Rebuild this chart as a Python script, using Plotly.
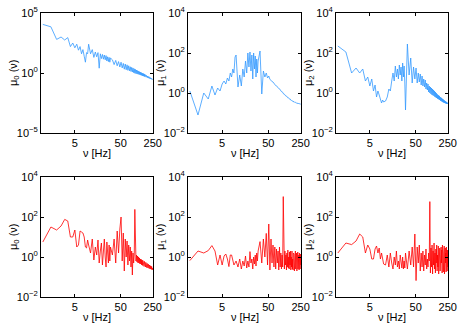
import numpy as np
import plotly.graph_objects as go

# frequency grid [Hz]
FREQ = [1, 1.5, 2, 2.5, 3, 3.5, 4, 4.5, 5, 5.5, 6, 6.5, 7, 7.5, 8, 8.5, 9, 9.5, 10,
        11, 12, 13, 14, 15, 16, 17, 18, 19, 20, 21, 22, 23, 24, 25, 26, 27, 28, 29, 30,
        33, 36, 39, 42, 45, 48, 51, 54, 57, 60, 63, 66,
        69, 72, 75, 78, 81, 84, 87, 90, 93, 96, 99, 102,
        105, 108, 111, 114, 117, 120, 123, 126, 129, 132, 135, 138,
        141, 144, 147, 150, 153, 156, 159, 162, 165, 168, 171, 174,
        177, 180, 183, 186, 189, 192, 195, 198, 201, 204, 207, 210,
        213, 216, 219, 222, 225, 228, 231, 234, 237, 240, 243, 246,
        249]

# spectra, stored as log10 of mu_k(nu)
TOP_MU0 = [4.05, 3.85, 2.8, 3.0, 2.75, 2.95, 2.2, 2.5, 2.1, 2.4, 1.9, 2.2, 1.6, 1.95, 1.4, 0.9, 1.7, 1.6, 2.4,
           1.6, 1.95, 1.3, 1.75, 1.35, 1.7, 0.4, 1.6, 1.2, 1.55, 1.15, 1.5, 1.1, 1.45, 1.0, 1.35, 0.95, 1.3, 0.9, 1.25,
           1.1, 0.7, 1.05, 0.6, 0.95, 0.5, 0.9, 0.42, 0.8, 0.32, 0.75, 0.27,
           0.68, 0.22, 0.6, 0.18, 0.52, 0.13, 0.47, 0.08, 0.42, 0.03, 0.35, -0.02,
           0.3, -0.05, 0.25, -0.08, 0.2, -0.1, 0.15, -0.12, 0.11, -0.15, 0.07, -0.18,
           0.04, -0.2, 0.0, -0.23, -0.03, -0.25, -0.06, -0.28, -0.1, -0.3, -0.13, -0.33,
           -0.16, -0.35, -0.2, -0.37, -0.22, -0.39, -0.25, -0.41, -0.28, -0.43, -0.31, -0.45,
           -0.34, -0.47, -0.37, -0.49, -0.4, -0.5, -0.43, -0.52, -0.46, -0.53, -0.49, -0.54,
           -0.53]
TOP_MU1 = [0.1, -1.1, 0.0, -0.3, 0.35, -0.1, 0.25, 0.1, 0.45, 0.6, 0.45, 0.75, 0.6, 1.0, 0.8, 1.2, 1.0, 1.8, 1.9,
           0.3, 0.9, 0.35, 1.2, 0.8, 1.6, 1.0, 2.0, 1.3, 2.05, 1.1, 1.9, 0.7, 2.0, 1.2, 1.85, 0.8, 1.7, 1.0, 1.6,
           2.1, -0.05, 1.1, 0.8, 1.0, 0.75, 0.85, 0.68, 0.65, 0.58, 0.55, 0.47,
           0.45, 0.37, 0.36, 0.29, 0.29, 0.22, 0.21, 0.14, 0.14, 0.07, 0.07, 0.0,
           0.0, -0.06, -0.06, -0.11, -0.11, -0.16, -0.15, -0.2, -0.19, -0.24, -0.23, -0.28,
           -0.26, -0.31, -0.29, -0.34, -0.32, -0.37, -0.35, -0.4, -0.37, -0.42, -0.4, -0.44,
           -0.42, -0.46, -0.44, -0.48, -0.45, -0.49, -0.47, -0.5, -0.48, -0.51, -0.49, -0.52,
           -0.5, -0.53, -0.51, -0.54, -0.52, -0.55, -0.52, -0.55, -0.53, -0.56, -0.54, -0.56,
           -0.55]
TOP_MU2 = [2.35, 2.05, 1.0, 1.25, 1.0, 1.2, 0.6, 0.8, 0.35, 0.7, 0.1, 0.4, -0.2, 0.1, -0.1, -0.3, -0.5, -0.35, -0.45,
           -0.4, -0.2, 0.2, 0.1, 0.6, 1.0, 0.6, 1.35, 0.8, 1.2, 0.7, 1.4, 0.9, 1.3, 0.6, 1.5, 0.8, 1.35, 0.5, -0.85,
           2.45, 0.9, 1.75, 0.5, 1.3, 0.7, 1.25, 0.5, 1.0, 0.55, 0.95, 0.4,
           0.85, 0.35, 0.7, 0.3, 0.65, 0.2, 0.5, 0.15, 0.45, 0.05, 0.35, 0.0,
           0.3, -0.05, 0.25, -0.1, 0.2, -0.12, 0.15, -0.15, 0.1, -0.2, 0.05, -0.22,
           0.0, -0.25, -0.05, -0.28, -0.1, -0.3, -0.12, -0.33, -0.15, -0.35, -0.2, -0.38,
           -0.22, -0.4, -0.25, -0.42, -0.28, -0.44, -0.3, -0.46, -0.33, -0.47, -0.36, -0.49,
           -0.38, -0.5, -0.4, -0.51, -0.42, -0.52, -0.44, -0.53, -0.46, -0.54, -0.48, -0.55,
           -0.52]
BOT_MU0 = [0.75, 1.5, 1.35, 1.55, 1.88, 1.8, 1.0, 1.0, 1.35, 0.5, 0.6, 1.3, 1.25, 1.2, 1.0, 0.5, 0.45, 0.85, 0.6,
           0.2, 0.9, -0.15, 0.5, 0.1, 0.85, -0.3, 0.3, 0.7, -0.4, 0.3, 0.9, 0.0, -0.5, 0.75, 0.1, -0.3, 0.6, -0.2, 0.5,
           0.1, 0.9, -0.3, 1.3, 0.2, 1.4, 2.0, -0.2, 1.2, -0.7, 0.9, 0.0,
           0.8, -0.4, 0.6, -0.2, 0.5, -0.5, 0.3, -0.9, 0.2, -0.3, 0.1, 2.38,
           0.15, -0.2, 0.1, -0.25, 0.05, -0.3, 0.0, -0.3, -0.05, -0.35, -0.1, -0.35,
           -0.12, -0.4, -0.15, -0.42, -0.18, -0.45, -0.2, -0.47, -0.22, -0.5, -0.25, -0.5,
           -0.27, -0.52, -0.3, -0.53, -0.32, -0.55, -0.34, -0.55, -0.36, -0.57, -0.38, -0.58,
           -0.4, -0.6, -0.42, -0.6, -0.44, -0.62, -0.45, -0.62, -0.47, -0.63, -0.48, -0.64,
           -0.55]
BOT_MU1 = [-0.18, 0.3, 0.2, 0.32, 0.57, 0.3, -0.4, 0.1, -0.4, 0.05, 0.15, -0.1, -0.48, 0.1, 0.1, -0.2, -0.4, -0.3, -0.2,
           -0.5, -0.1, -0.6, -0.2, -0.45, 0.05, -0.55, -0.2, -0.5, 0.27, -0.3, -0.1, -0.6, 0.0, -0.35, 0.1, -0.45, 0.2, -0.2, 0.3,
           0.77, -0.3, 0.9, 0.0, 1.18, -0.4, 1.65, -0.65, 0.9, -0.3, 0.6, -0.5,
           0.5, -0.6, 0.4, -0.3, 0.3, -0.65, 0.5, -0.5, 0.2, -0.6, 0.1, -0.5,
           3.02, 0.2, -0.6, 0.3, -0.4, 0.1, -0.65, 0.2, -0.5, 0.35, -0.55, 0.0,
           -0.6, 0.25, -0.4, 0.3, -0.65, 0.0, -0.5, 0.3, -0.6, -0.1, -0.65, 0.2,
           -0.5, 0.15, -0.7, 0.0, -0.4, 0.3, -0.6, -0.1, -0.5, 0.2, -0.7, 0.05,
           -0.55, 0.25, -0.6, -0.05, -0.45, 0.1, -0.65, 0.2, -0.4, -0.1, -0.6, 0.15,
           -0.4]
BOT_MU2 = [0.2, 0.7, 0.62, 0.8, 1.15, 1.0, 0.2, 0.6, 0.4, -0.1, -0.1, 0.4, 0.55, 0.2, 0.45, -0.1, 0.2, -0.2, -0.35,
           -0.4, 0.1, -0.5, 0.2, -0.3, -0.6, 0.0, -0.4, 0.3, -0.5, -0.2, -0.6, 0.1, -0.35, -0.55, 0.0, -0.6, -0.2, -0.55, 0.2,
           -0.6, 0.3, -0.4, 0.5, -0.5, 1.15, -1.18, 0.5, -0.3, 0.6, -0.7, 0.2,
           -0.5, 0.3, -0.7, 0.1, -0.4, 0.4, -0.6, -0.1, -0.5, 0.2, -0.2, 2.77,
           -0.8, 0.45, -0.5, 0.6, -0.85, 0.3, -0.4, 0.7, -0.6, 0.2, -0.8, 0.4,
           -0.3, 0.6, -0.7, 0.1, -0.5, 0.55, -0.85, 0.3, -0.4, 0.45, -0.7, 0.0,
           -0.6, 0.5, -0.3, 0.35, -0.8, 0.6, -0.5, 0.2, -0.75, 0.4, -0.4, 0.55,
           -0.85, 0.3, -0.6, 0.45, -0.3, 0.2, -0.75, 0.5, -0.5, 0.1, -0.7, 0.35,
           -0.5]

X_TICKS = [5, 50, 250]
Y_TICKS_WIDE = [-5, 0, 5]
Y_TICKS = [-2, 0, 2, 4]

BLUE = '#3399FF'
RED = '#FF0000'
FONT = 'Liberation Sans, Arial, sans-serif'

W, H = 463, 327
COLS = [(41, 153), (188, 301), (336, 448)]   # panel left/right in px
ROWS = [(13, 133), (177, 297)]               # panel top/bottom in px

panels = [
    (0, 0, TOP_MU0, BLUE, '0', Y_TICKS_WIDE),
    (0, 1, TOP_MU1, BLUE, '1', Y_TICKS),
    (0, 2, TOP_MU2, BLUE, '2', Y_TICKS),
    (1, 0, BOT_MU0, RED, '0', Y_TICKS),
    (1, 1, BOT_MU1, RED, '1', Y_TICKS),
    (1, 2, BOT_MU2, RED, '2', Y_TICKS),
]


def sup(e):
    return '10<sup>%s</sup>' % str(e).replace('-', '\u2212')


fig = go.Figure()
layout = {}
annotations = []
for i, (r, c, vals, color, k, yt) in enumerate(panels):
    s = '' if i == 0 else str(i + 1)
    x0, x1 = COLS[c]
    y0, y1 = ROWS[r]
    fig.add_trace(go.Scatter(
        x=FREQ, y=np.power(10.0, vals), mode='lines',
        line=dict(color=color, width=0.8),
        xaxis='x' + s, yaxis='y' + s, showlegend=False, hoverinfo='skip'))
    common = dict(showline=True, linecolor='black', linewidth=1, mirror='ticks',
                  ticks='inside', ticklen=3, tickcolor='black', showgrid=False,
                  zeroline=False, automargin=False,
                  tickfont=dict(size=11, color='black', family=FONT))
    layout['xaxis' + s] = dict(domain=[x0 / W, x1 / W], anchor='y' + s, type='log',
                               range=[-0.04, 2.405], tickvals=X_TICKS,
                               ticktext=[str(t) for t in X_TICKS], **common)
    layout['yaxis' + s] = dict(domain=[1 - y1 / H, 1 - y0 / H], anchor='x' + s, type='log',
                               range=[yt[0], yt[-1]], tickvals=[10.0 ** e for e in yt],
                               ticktext=[sup(e) for e in yt], **common)
    annotations.append(dict(text='\u03bd [Hz]', xref='paper', yref='paper',
                            x=(x0 + x1) / 2 / W, y=1 - (y1 + 20) / H, showarrow=False,
                            xanchor='center', yanchor='middle',
                            font=dict(size=11, color='black', family=FONT)))
    annotations.append(dict(text='\u03bc<sub>%s</sub> (\u03bd)' % k, xref='paper', yref='paper',
                            x=(x0 - 27) / W, y=1 - (y0 + y1) / 2 / H, showarrow=False,
                            textangle=-90, xanchor='center', yanchor='middle',
                            font=dict(size=11, color='black', family=FONT)))

fig.update_layout(
    template='none',
    width=W, height=H, autosize=False,
    margin=dict(l=0, r=0, t=0, b=0),
    paper_bgcolor='white', plot_bgcolor='white',
    font=dict(family=FONT, color='black'),
    annotations=annotations,
    **layout
)

# drop the browser's default body margin so the figure sits at the page corner
fig.write_html("out.html", config={'displayModeBar': False},
               post_script="document.body.style.margin='0';")
